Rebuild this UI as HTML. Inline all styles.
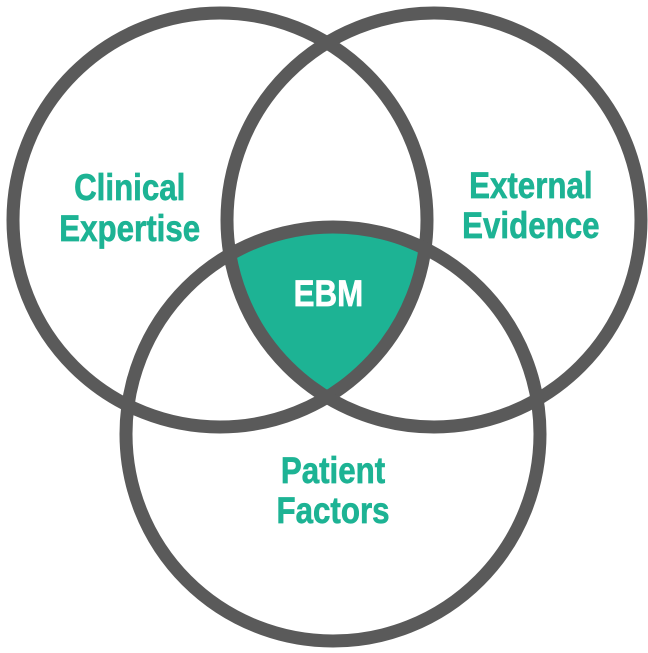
<!DOCTYPE html>
<html><head><meta charset="utf-8"><style>
html,body{margin:0;padding:0;background:#fff;}
</style></head><body>
<svg width="648" height="648" viewBox="0 0 648 648" xmlns="http://www.w3.org/2000/svg">
<defs>
<clipPath id="cA"><circle cx="220" cy="220" r="207"/></clipPath>
<clipPath id="cB"><circle cx="434" cy="220" r="207"/></clipPath>
</defs>
<g clip-path="url(#cA)"><g clip-path="url(#cB)"><circle cx="333" cy="434" r="207" fill="#1db394"/></g></g>
<g fill="none" stroke="#5a5a5a" stroke-width="13">
<circle cx="220" cy="220" r="207"/>
<circle cx="434" cy="220" r="207"/>
<circle cx="333" cy="434" r="207"/>
</g>
<g font-family="Liberation Sans, sans-serif" font-weight="bold" font-size="34" text-anchor="middle" fill="#1db394" stroke="#1db394" stroke-width="0.6">
<g transform="scale(0.92,1.1)">
<text x="141" y="181.8">Clinical</text>
<text x="141" y="219">Expertise</text>
<text x="577" y="180">External</text>
<text x="577" y="216.4">Evidence</text>
<text x="362" y="439">Patient</text>
<text x="362" y="475.5">Factors</text>
<text x="357" y="278" fill="#fff" stroke="#fff">EBM</text>
</g>
</g>
</svg>
</body></html>
